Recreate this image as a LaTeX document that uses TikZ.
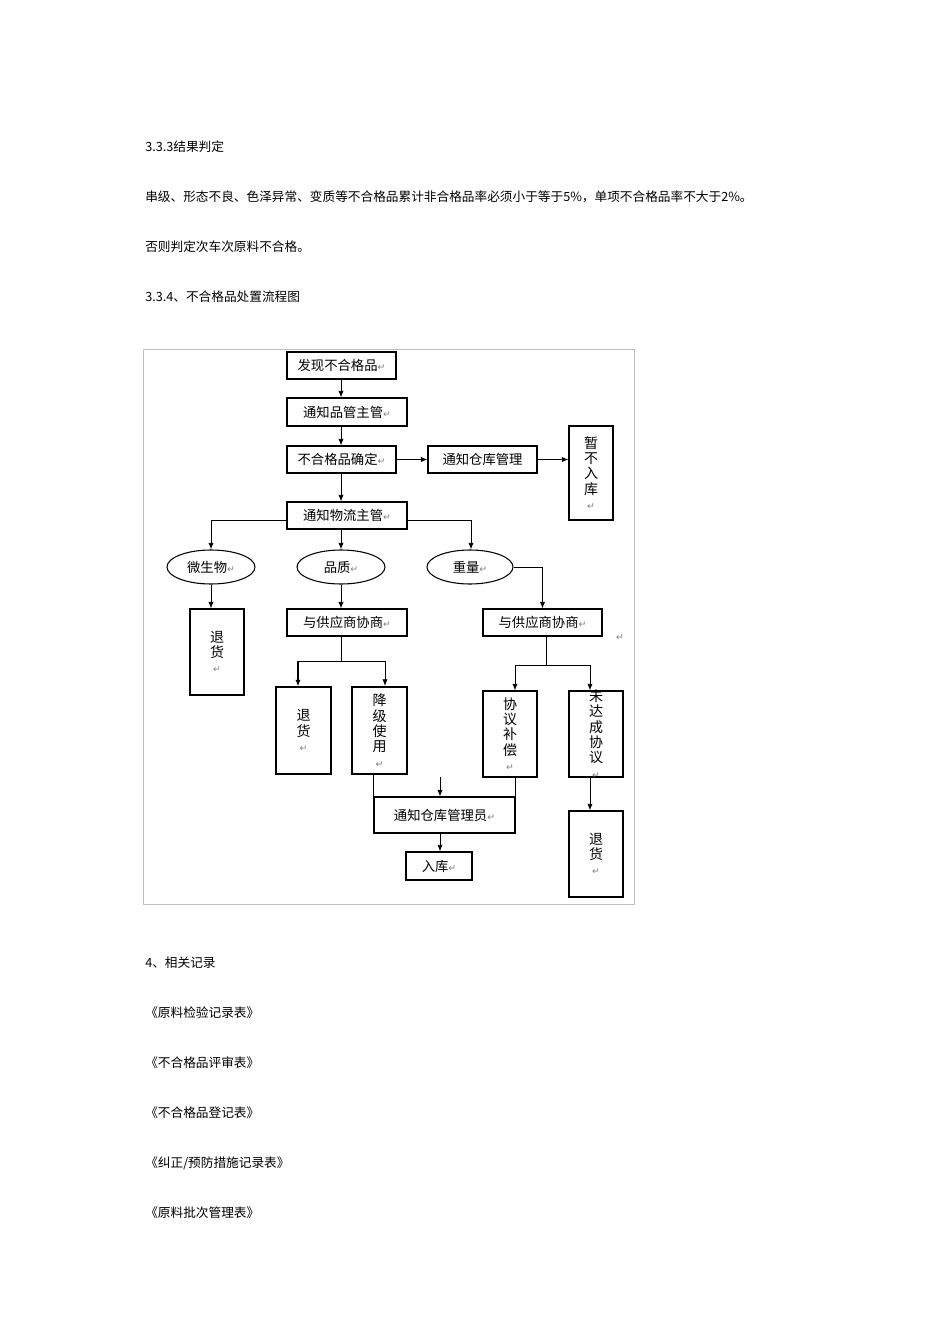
\documentclass[tikz,border=0pt]{standalone}
\usepackage{fontspec}
\setmainfont{Noto Sans CJK SC}
\newfontfamily\dejavu{DejaVu Sans}
\usetikzlibrary{arrows.meta,shapes.geometric}
\newcommand{\parmk}{{\dejavu\color{gray}\scriptsize ↵}}
\begin{document}
\begin{tikzpicture}[x=0.75pt,y=-0.75pt,
  bx/.style 2 args={draw,line width=0.8pt,minimum width=#1*0.75pt,minimum height=#2*0.75pt,inner sep=0pt,font=\fontsize{10}{11}\selectfont},
  el/.style 2 args={draw,ellipse,line width=0.8pt,minimum width=#1*0.75pt,minimum height=#2*0.75pt,inner sep=0pt,font=\fontsize{10}{11}\selectfont},
  vt/.style={align=center,font=\fontsize{10.5}{11.5}\selectfont},
  ln/.style={line width=0.7pt},
  arr/.style={ln,-{Latex[length=5pt,width=4pt]}},
  body/.style={anchor=west,inner sep=0pt,font=\fontsize{9.5}{11}\selectfont}]
\useasboundingbox (0,0) rectangle (950,1344);
\node[body] (t1) at (145,147) {3.3.3结果判定};
\node[body] (t2) at (145,197) {串级、形态不良、色泽异常、变质等不合格品累计非合格品率必须小于等于5\%，单项不合格品率不大于2\%。};
\node[body] (t3) at (145,247) {否则判定次车次原料不合格。};
\node[body] (t4) at (145,297) {3.3.4、不合格品处置流程图};
\draw[gray!50,line width=0.6pt] (143,349) rectangle (634,904);

\node[bx={109}{27}] (n1) at (341.5,365.5) {发现不合格品\parmk};
\node[bx={120}{28}] (n2) at (347,412) {通知品管主管\parmk};
\node[bx={109}{27}] (n3) at (341.5,459.5) {不合格品确定\parmk};
\node[bx={109}{27}] (n4) at (482.5,459.5) {通知仓库管理};
\node[bx={44}{94}] (n5) at (591,473) {};
\node[vt] (n5t) at (n5) {暂\\不\\入\\库\\\parmk};
\node[bx={120}{27}] (n6) at (347,515.5) {通知物流主管\parmk};
\node[el={88}{34}] (e1) at (211,567) {微生物\parmk};
\node[el={88}{34}] (e2) at (341,567) {品质\parmk};
\node[el={86}{34}] (e3) at (470,567) {重量\parmk};
\node[bx={54}{86}] (n7) at (217,652) {};
\node[vt] (n7t) at (n7) {退\\货\\\parmk};
\node[bx={120}{27}] (n8) at (347,622.5) {与供应商协商\parmk};
\node[bx={119}{27}] (n9) at (542.5,622.5) {与供应商协商\parmk};
\node (pmx) at (620,638) {\parmk};
\node[bx={55}{87}] (n10) at (303.5,730.5) {};
\node[vt] (n10t) at (n10) {退\\货\\\parmk};
\node[bx={55}{87},line width=1.6pt] (n11) at (379.5,730.5) {};
\node[vt] (n11t) at (n11) {降\\级\\使\\用\\\parmk};
\node[bx={54}{86}] (n12) at (510,734) {};
\node[vt] (n12t) at (n12) {协\\议\\补\\偿\\\parmk};
\node[bx={54}{86}] (n13) at (596,734) {};
\node[vt] (n13t) at (n13) {未\\达\\成\\协\\议\\\parmk};
\node[bx={141}{36}] (n14) at (444.5,815) {通知仓库管理员\parmk};
\node[bx={66}{28}] (n15) at (439,866) {入库\parmk};
\node[bx={54}{86}] (n16) at (596,854) {};
\node[vt] (n16t) at (n16) {退\\货\\\parmk};

\coordinate (a1) at (341,379);
\draw[arr] (a1) -- (a1|-n2.north);
\coordinate (a2) at (341,426);
\draw[arr] (a2) -- (a2|-n3.north);
\draw[arr] (n3.east) -- (n4.west);
\draw[arr] (n4.east) -- (n4.east-|n5.west);
\coordinate (a3) at (341,473);
\draw[arr] (a3) -- (a3|-n6.north);
\coordinate (j1) at (211,520);
\coordinate (j2) at (471,520);
\draw[ln] (n6.west|-j1) -- (j1);
\draw[arr] (j1) -- (j1|-e1.north);
\draw[ln] (n6.east|-j2) -- (j2);
\draw[arr] (j2) -- (j2|-e3.north);
\coordinate (a4) at (341,529);
\draw[arr] (a4) -- (a4|-e2.north);
\draw[arr] (e3.east) -| (n9.north);
\draw[arr] (e1.south) -- (e1.south|-n7.north);
\draw[arr] (e2.south) -- (e2.south|-n8.north);
\coordinate (b1) at (341,661);
\coordinate (b2) at (298,661);
\coordinate (b3) at (385,661);
\draw[ln] (b1|-n8.south) -- (b1);
\draw[ln] (b2) -- (b3);
\draw[arr,line width=1.2pt] (b2) -- (b2|-n10.north);
\draw[arr] (b3) -- (b3|-n11.north);
\coordinate (c1) at (546,665);
\coordinate (c2) at (515,665);
\coordinate (c3) at (590,665);
\draw[ln] (c1|-n9.south) -- (c1);
\draw[ln] (c2) -- (c3);
\draw[arr] (c2) -- (c2|-n12.north);
\draw[arr] (c3) -- (c3|-n13.north);
\draw[ln] (n14.north west|-n11.south) -- (n14.north west);
\draw[ln] (n14.north east|-n12.south) -- (n14.north east);
\coordinate (d1) at (440,777);
\draw[arr] (d1) -- (d1|-n14.north);
\coordinate (d2) at (440,833);
\draw[arr] (d2) -- (d2|-n15.north);
\coordinate (d3) at (590,777);
\draw[arr] (d3) -- (d3|-n16.north);

\node[body] (r0) at (145,963) {4、相关记录};
\node[body] (r1) at (145,1013) {《原料检验记录表》};
\node[body] (r2) at (145,1063) {《不合格品评审表》};
\node[body] (r3) at (145,1113) {《不合格品登记表》};
\node[body] (r4) at (145,1163) {《纠正/预防措施记录表》};
\node[body] (r5) at (145,1213) {《原料批次管理表》};
\end{tikzpicture}
\end{document}
